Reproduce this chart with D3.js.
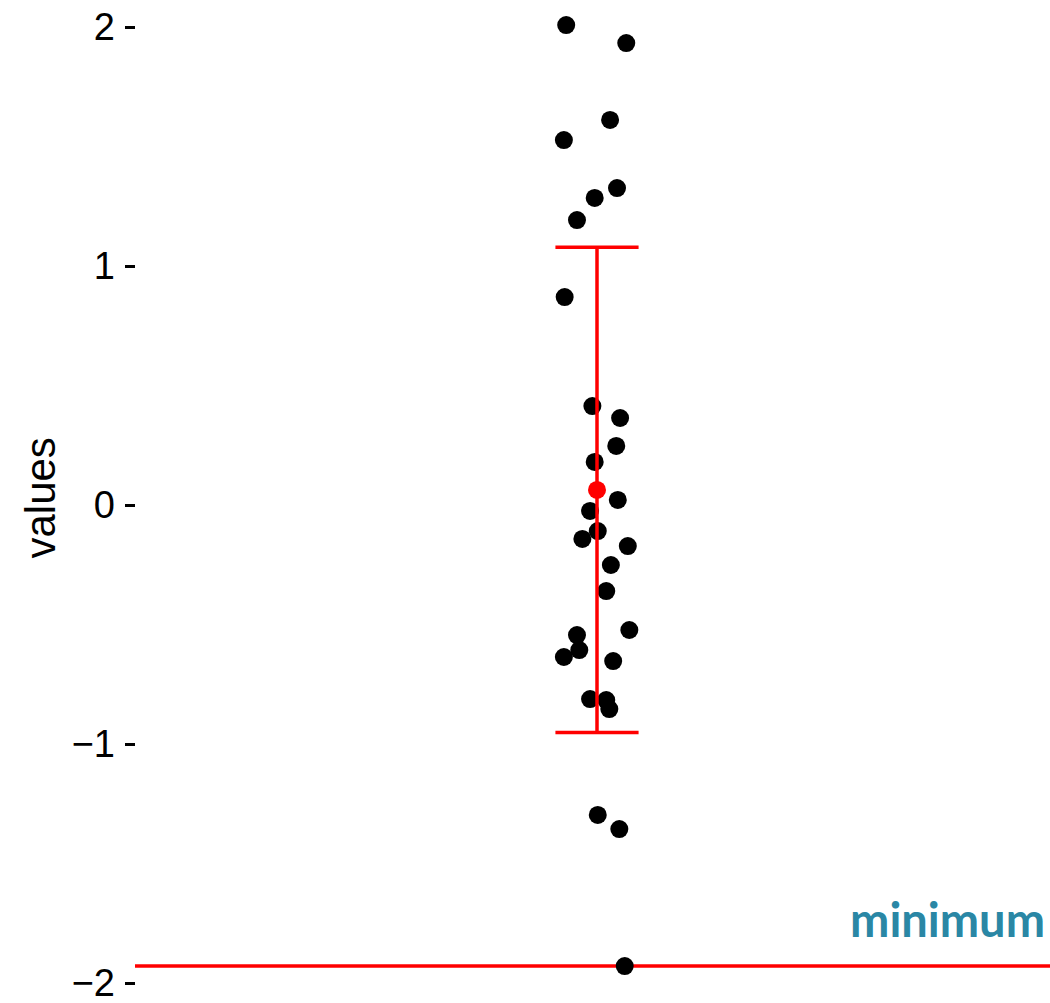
<!DOCTYPE html>
<html>
<head>
<meta charset="utf-8">
<script src="https://cdn.jsdelivr.net/npm/d3@7"></script>
<style>
  body { margin: 0; background: #fff; }
  svg { display: block; }
</style>
</head>
<body>
<script>
// jittered x position (group centre = 1) and value of each observation
var jitterX = [0.960, 1.038, 1.017, 0.957, 1.026, 0.997, 0.974, 0.958, 0.994, 1.030,
               1.025, 0.997, 1.027, 0.991, 1.001, 0.981, 1.040, 1.018, 1.012, 1.042,
               0.974, 0.977, 0.957, 1.021, 0.991, 1.012, 1.016, 1.001, 1.029, 1.036];
var values = [2.008, 1.933, 1.611, 1.527, 1.326, 1.285, 1.192, 0.870, 0.414, 0.364,
              0.247, 0.180, 0.021, -0.025, -0.109, -0.142, -0.172, -0.251, -0.360, -0.523,
              -0.544, -0.607, -0.636, -0.653, -0.812, -0.816, -0.854, -1.297, -1.356, -1.929];
var yTicks = [-2, -1, 0, 1, 2];
var minLabel = "minimum";

var width = 1050, height = 1003;

var svg = d3.select("body").append("svg")
    .attr("width", width)
    .attr("height", height);

var x = d3.scaleLinear().domain([0.4, 1.6]).range([135, 1059]);
var y = d3.scaleLinear().domain([-2, 2]).range([983, 27]);

// y axis, no line
var yAxis = svg.append("g")
    .attr("transform", "translate(135,0)")
    .call(d3.axisLeft(y).tickValues(yTicks).tickFormat(d3.format("d")).tickSize(10).tickPadding(10));
yAxis.select(".domain").remove();
yAxis.selectAll(".tick line").attr("stroke", "#000").attr("stroke-width", 3);
yAxis.selectAll(".tick text")
    .attr("fill", "#000")
    .style("font-family", "'Liberation Sans', Arial, sans-serif")
    .style("font-size", "38px");

svg.append("text")
    .attr("transform", "translate(55," + y(0.03) + ") rotate(-90)")
    .attr("text-anchor", "middle")
    .style("font-family", "'Liberation Sans', Arial, sans-serif")
    .style("font-size", "42px")
    .text("values");

// horizontal line at the minimum
var minVal = d3.min(values);
svg.append("line")
    .attr("x1", 135).attr("x2", width)
    .attr("y1", y(minVal)).attr("y2", y(minVal))
    .attr("stroke", "red").attr("stroke-width", 3.5);

svg.append("text")
    .attr("x", 1045).attr("y", 937)
    .attr("text-anchor", "end")
    .attr("fill", "#2a87a5")
    .style("font-family", "Lato, 'Open Sans', sans-serif")
    .style("font-weight", "bold")
    .style("font-size", "47px")
    .text(minLabel);

// points
svg.selectAll(".pt")
    .data(values)
    .enter()
    .append("circle")
    .attr("class", "pt")
    .attr("cx", function(d, i) { return x(jitterX[i]); })
    .attr("cy", function(d) { return y(d); })
    .attr("r", 9)
    .attr("fill", "#000");

// mean +/- sd
var m = d3.mean(values), sd = d3.deviation(values);
var cap = 0.054;
var eb = svg.append("g").attr("stroke", "red").attr("stroke-width", 3.5);
eb.append("line").attr("x1", x(1)).attr("x2", x(1)).attr("y1", y(m + sd)).attr("y2", y(m - sd));
eb.append("line").attr("x1", x(1 - cap)).attr("x2", x(1 + cap)).attr("y1", y(m + sd)).attr("y2", y(m + sd));
eb.append("line").attr("x1", x(1 - cap)).attr("x2", x(1 + cap)).attr("y1", y(m - sd)).attr("y2", y(m - sd));
svg.append("circle")
    .attr("cx", x(1)).attr("cy", y(m))
    .attr("r", 9)
    .attr("fill", "red");
</script>
</body>
</html>
